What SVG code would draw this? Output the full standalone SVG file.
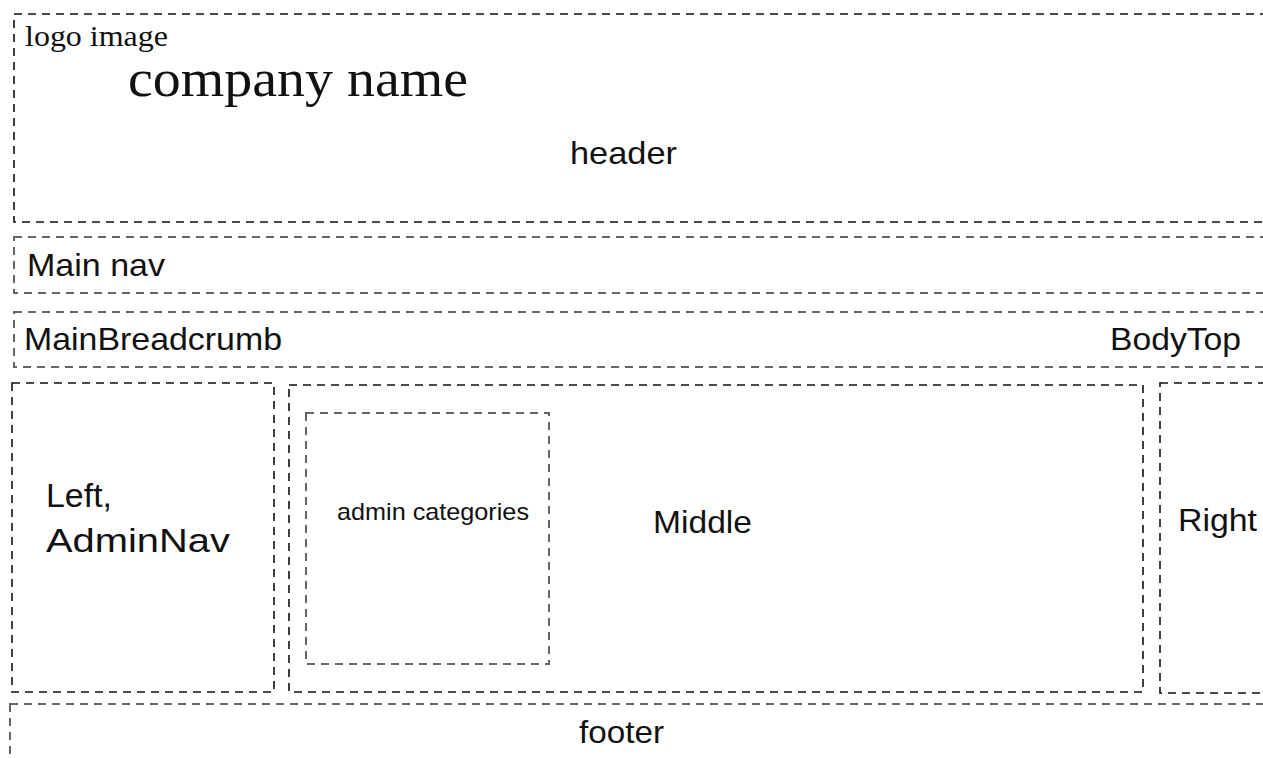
<svg xmlns="http://www.w3.org/2000/svg" width="1263" height="758" viewBox="0 0 1263 758">
<style>
.box{fill:none;stroke:#111;stroke-width:1.6;stroke-dasharray:8 6}
.soft{stroke:#666;stroke-width:2}
.sans{font-family:"Liberation Sans",Arial,sans-serif;fill:#111}
.serif{font-family:"Liberation Serif","Times New Roman",serif;fill:#111}
</style>
<rect width="1263" height="758" fill="#fff"/>
<g id="header">
<rect class="box" x="14" y="14" width="1290" height="208"/>
<text class="serif" x="25" y="46" font-size="30" textLength="143" lengthAdjust="spacingAndGlyphs">logo image</text>
<text class="serif" x="128" y="96" font-size="52" textLength="340" lengthAdjust="spacingAndGlyphs">company name</text>
<text class="sans" x="570" y="164" font-size="32" textLength="107" lengthAdjust="spacingAndGlyphs">header</text>
</g>
<g id="mainnav">
<rect class="box soft" x="14" y="237" width="1290" height="56"/>
<text class="sans" x="27" y="276" font-size="32" textLength="138" lengthAdjust="spacingAndGlyphs">Main nav</text>
</g>
<g id="breadcrumb">
<rect class="box soft" x="14" y="312" width="1290" height="55"/>
<text class="sans" x="24" y="350" font-size="32" textLength="258" lengthAdjust="spacingAndGlyphs">MainBreadcrumb</text>
<text class="sans" x="1110" y="350" font-size="32" textLength="131" lengthAdjust="spacingAndGlyphs">BodyTop</text>
</g>
<g id="left">
<rect class="box" x="12" y="383" width="262" height="309"/>
<text class="sans" x="46" y="507" font-size="34" textLength="66" lengthAdjust="spacingAndGlyphs">Left,</text>
<text class="sans" x="46" y="552" font-size="34" textLength="184" lengthAdjust="spacingAndGlyphs">AdminNav</text>
</g>
<g id="middle">
<rect class="box" x="289" y="385" width="854" height="307"/>
<text class="sans" x="653" y="533" font-size="32" textLength="99" lengthAdjust="spacingAndGlyphs">Middle</text>
</g>
<g id="admincategories">
<rect class="box soft" x="306" y="413" width="243" height="251"/>
<text class="sans" x="337" y="520" font-size="24" textLength="192" lengthAdjust="spacingAndGlyphs">admin categories</text>
</g>
<g id="right">
<rect class="box" x="1160" y="383" width="140" height="310"/>
<text class="sans" x="1178" y="531" font-size="32" textLength="79" lengthAdjust="spacingAndGlyphs">Right</text>
</g>
<g id="footer">
<rect class="box soft" x="10" y="704" width="1290" height="100"/>
<text class="sans" x="579" y="743" font-size="32" textLength="85" lengthAdjust="spacingAndGlyphs">footer</text>
</g>
</svg>
